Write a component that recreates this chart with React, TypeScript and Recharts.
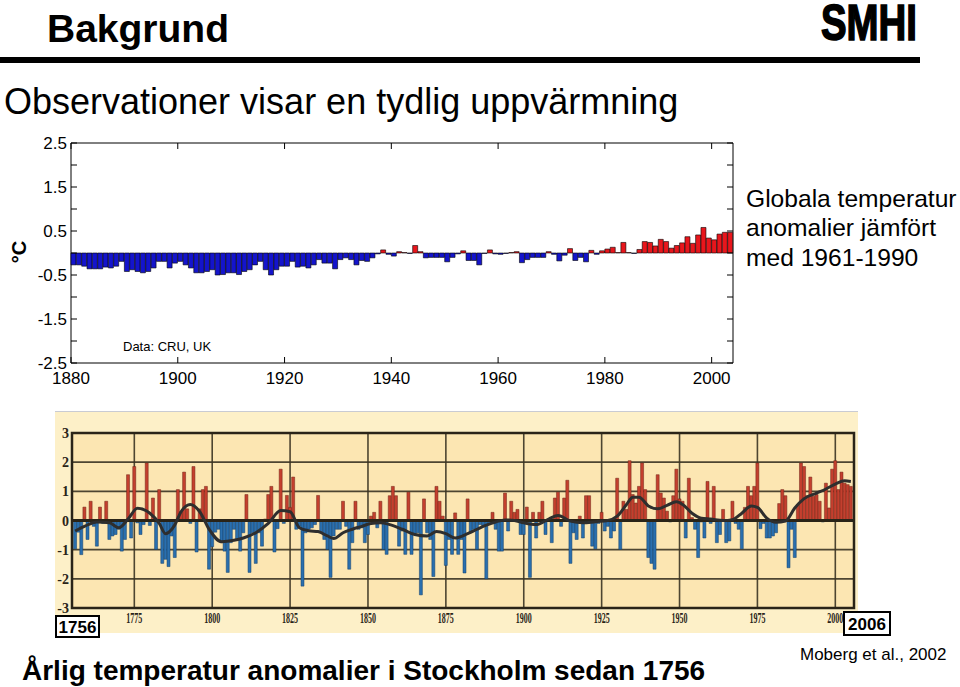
import React from "react";
import {
  BarChart,
  Bar,
  ComposedChart,
  Line,
  XAxis,
  YAxis,
  Cell,
  CartesianGrid,
  ReferenceArea,
  ReferenceLine,
} from "recharts";

const SANS = "'Liberation Sans', Arial, sans-serif";
const SERIF = "'Liberation Serif', 'Times New Roman', serif";

// Global anomalies (CRU), 1880..2003, vs 1961-1990
const GLOBAL_START = 1880;
const globalAnom = [
  -0.27, -0.27, -0.3, -0.36, -0.36, -0.36, -0.32, -0.34, -0.3, -0.19,
  -0.42, -0.38, -0.42, -0.45, -0.42, -0.34, -0.19, -0.19, -0.34, -0.23,
  -0.19, -0.27, -0.34, -0.45, -0.45, -0.42, -0.38, -0.5, -0.49, -0.45,
  -0.45, -0.49, -0.42, -0.38, -0.27, -0.19, -0.38, -0.5, -0.38, -0.3,
  -0.3, -0.19, -0.32, -0.3, -0.34, -0.27, -0.15, -0.23, -0.23, -0.36,
  -0.15, -0.11, -0.15, -0.27, -0.17, -0.19, -0.11, -0.02, 0.07, -0.03,
  -0.07, 0.03, 0.01, -0.01, 0.17, 0.03, -0.11, -0.1, -0.1, -0.1,
  -0.2, -0.1, -0.02, 0.05, -0.17, -0.17, -0.27, -0.01, 0.07, -0.02,
  -0.03, -0.01, 0.01, 0.03, -0.22, -0.15, -0.1, -0.1, -0.1, 0.03,
  -0.03, -0.18, -0.05, 0.1, -0.17, -0.1, -0.2, 0.06, -0.03, 0.05,
  0.09, 0.13, 0.01, 0.24, 0.01, -0.01, 0.08, 0.26, 0.24, 0.16,
  0.31, 0.26, 0.11, 0.17, 0.23, 0.37, 0.22, 0.41, 0.58, 0.34,
  0.3, 0.43, 0.47, 0.47,
];
const globalXTicks = [1880, 1900, 1920, 1940, 1960, 1980, 2000];
const globalYTicks = [-2.5, -2, -1.5, -1, -0.5, 0, 0.5, 1, 1.5, 2, 2.5];

// Stockholm annual anomalies, 1756..2005
const STHLM_START = 1756;
const sthlmAnom = [
  -0.97, -0.4, -1.17, 0.46, -0.65, 0.66, -0.2, -0.88, 0.46, -0.1,
  0.66, -0.65, -0.53, -0.48, -0.3, -1.05, -0.65, 1.57, -0.6, 1.85,
  -0.08, -0.48, -0.14, 1.97, -0.17, 0.77, -0.99, 1.06, -1.47, -1.33,
  -1.58, -0.53, -1.27, 1.06, 0.3, 1.66, 0.4, -0.1, 1.85, -1.08,
  0.4, 1.06, 1.17, -1.67, -0.9, -0.4, -0.3, -0.76, -1.05, -1.78,
  -0.76, -0.3, -0.65, -1.05, -0.42, 0.89, -1.78, -0.42, -1.47, -0.42,
  -0.88, 0.05, 0.89, 1.17, -1.08, -0.28, 1.76, -0.1, 0.86, 0.45,
  1.49, -0.3, -0.2, -2.25, -0.42, -0.3, -0.25, -0.14, 0.86, -0.42,
  -0.65, -0.99, -1.95, -0.53, -0.3, -0.3, 0.66, -0.2, -1.67, -0.76,
  0.66, -0.3, -0.25, -0.76, -0.48, 0.15, 0.28, -0.25, 0.66, -0.99,
  -1.16, 0.85, 1.17, 0.85, -0.88, -0.36, -1.16, 0.97, -1.16, -0.48,
  -0.42, -2.55, 0.74, -0.42, -0.65, -1.92, 1.17, 0.66, 0.15, -1.54,
  -0.65, -1.16, 0.26, -1.16, -0.65, -1.8, 0.74, -0.42, -0.3, -0.99,
  -0.14, -0.2, -2.0, -0.1, 0.28, -0.3, -1.05, -1.05, 0.94, -0.36,
  0.66, 0.28, 0.38, -0.48, -0.48, 0.46, -1.95, 0.28, -0.6, 0.28,
  0.66, -0.48, 0.05, -0.76, 0.77, 0.97, -0.2, 0.77, 1.38, -1.47,
  -0.42, -0.65, 0.15, -0.6, 0.85, 0.85, -0.88, -0.97, -0.1, 0.28,
  -0.36, -0.2, -0.6, -0.36, 1.45, -0.99, 0.66, 0.38, 2.05, 0.89,
  0.6, 1.17, 1.97, 1.06, -1.27, -1.47, -1.67, 1.57, 0.94, 0.77,
  0.32, -0.05, 0.85, 1.76, 0.74, 0.66, -0.6, 1.45, 0.1, -0.3,
  -1.27, -0.05, -0.6, 1.34, -0.1, 1.17, -0.76, -0.48, 0.38, -0.76,
  -0.7, 0.66, -0.1, -0.3, -0.97, 0.45, 1.17, 0.85, 1.17, 1.97,
  -0.28, -0.1, -0.6, -0.6, -0.53, -0.42, 0.58, 1.06, 0.85, -1.62,
  -0.3, -1.27, 0.55, 1.97, 1.85, 0.85, 1.49, 0.83, 0.89, 0.66,
  -0.05, 1.28, 0.43, 1.76, 2.05, 1.06, 1.66, 1.28, 1.23, 1.17,
];
// smoothed curve
const smoothYears = [
  1756, 1759, 1763, 1767, 1770, 1773, 1776, 1780, 1783, 1785, 1788, 1790,
  1793, 1796, 1799, 1803, 1807, 1810, 1814, 1818, 1822, 1825, 1828, 1831,
  1834, 1837, 1839, 1842, 1845, 1848, 1851, 1854, 1857, 1861, 1865, 1869,
  1872, 1875, 1878, 1882, 1885, 1888, 1891, 1894, 1897, 1900, 1904, 1908,
  1911, 1915, 1919, 1923, 1927, 1930, 1933, 1935, 1937, 1940, 1943, 1946,
  1949, 1951, 1954, 1957, 1960, 1964, 1967, 1970, 1973, 1975, 1978, 1981,
  1984, 1987, 1990, 1994, 1997, 2000, 2003, 2005,
];
const smoothVals = [
  -0.36, -0.2, -0.05, -0.08, -0.25, 0.05, 0.42, 0.25, -0.1, -0.45, -0.15, 0.3,
  0.55, 0.3, -0.3, -0.73, -0.68, -0.6, -0.42, -0.1, 0.34, 0.3, -0.25, -0.35,
  -0.38, -0.53, -0.62, -0.42, -0.3, -0.2, -0.1, -0.08, -0.14, -0.3, -0.48, -0.53,
  -0.38, -0.45, -0.6, -0.45, -0.3, -0.16, -0.05, 0.02, 0.0, -0.08, -0.14, 0.05,
  0.17, -0.02, -0.08, -0.04, 0.0, 0.15, 0.55, 0.8, 0.8, 0.5, 0.4, 0.52,
  0.64, 0.55, 0.25, 0.08, 0.05, 0.0, 0.03, 0.25, 0.5, 0.45, 0.08, -0.06,
  -0.02, 0.43, 0.75, 0.94, 1.08, 1.25, 1.36, 1.34,
];
const sthlmXTicks = [1775, 1800, 1825, 1850, 1875, 1900, 1925, 1950, 1975, 2000];
const sthlmYTicks = [-3, -2, -1, 0, 1, 2, 3];

const globalData = globalAnom.map((v, i) => ({ x: GLOBAL_START + i + 0.5, v }));
const sthlmData = sthlmAnom.map((v, i) => ({ year: STHLM_START + i, v }));
const smoothData = smoothYears.map((year, i) => ({ year, s: smoothVals[i] }));

const TOP_W = 662;
const TOP_H = 220;

const GlobalXTick = (p: any) => {
  const { x, y, payload } = p;
  return (
    <g>
      <line x1={x} x2={x} y1={y} y2={y - 6} stroke="#000" />
      <line x1={x} x2={x} y1={y - TOP_H} y2={y - TOP_H + 6} stroke="#000" />
      <text x={x} y={y + 21} textAnchor="middle" fontSize={17} fontFamily={SANS} fill="#000">
        {payload.value}
      </text>
    </g>
  );
};

const GlobalYTick = (p: any) => {
  const { x, y, payload } = p;
  const v = payload.value;
  const labelled = Math.abs(v % 1) === 0.5;
  return (
    <g>
      <line x1={x} x2={x + 6} y1={y} y2={y} stroke="#000" />
      <line x1={x + TOP_W} x2={x + TOP_W - 6} y1={y} y2={y} stroke="#000" />
      {labelled && (
        <text x={x - 4} y={y + 6} textAnchor="end" fontSize={17} fontFamily={SANS} fill="#000">
          {v}
        </text>
      )}
    </g>
  );
};

const SthlmXTick = (p: any) => {
  const { x, y, payload } = p;
  return (
    <text
      x={x}
      y={y + 15}
      textAnchor="middle"
      fontSize={14}
      fontWeight="bold"
      fontFamily={SERIF}
      fill="#2a2418"
      textLength={16}
      lengthAdjust="spacingAndGlyphs"
    >
      {payload.value}
    </text>
  );
};

const SthlmYTick = (p: any) => {
  const { x, y, payload } = p;
  return (
    <text x={x - 3} y={y + 5} textAnchor="end" fontSize={14} fontWeight="bold" fontFamily={SERIF} fill="#2a2418">
      {payload.value}
    </text>
  );
};

function GlobalChart() {
  return (
    <BarChart
      width={745}
      height={265}
      data={globalData}
      margin={{ top: 13, right: 12, bottom: 2, left: 0 }}
      barCategoryGap={0}
    >
      <XAxis
        dataKey="x"
        type="number"
        domain={[1880, 2004]}
        ticks={globalXTicks}
        interval={0}
        tickSize={0}
        tickMargin={0}
        axisLine={false}
        tickLine={false}
        tick={GlobalXTick}
        height={30}
      />
      <YAxis
        type="number"
        domain={[-2.5, 2.5]}
        ticks={globalYTicks}
        interval={0}
        tickSize={0}
        tickMargin={0}
        axisLine={false}
        tickLine={false}
        tick={GlobalYTick}
        width={71}
      />
      <Bar dataKey="v" isAnimationActive={false} stroke="#000" strokeWidth={0.6}>
        {globalData.map((d, i) => (
          <Cell key={i} fill={d.v >= 0 ? "#e8161c" : "#1414cc"} />
        ))}
      </Bar>
      <ReferenceArea x1={1880} x2={2004} y1={-2.5} y2={2.5} fill="none" stroke="#000" strokeWidth={1} />
    </BarChart>
  );
}

function SthlmChart() {
  return (
    <ComposedChart
      width={803}
      height={221}
      data={sthlmData}
      margin={{ top: 22, right: 4, bottom: 2, left: 0 }}
      barCategoryGap={0}
    >
      <CartesianGrid fill="#fce6b2" stroke="#3a3322" strokeWidth={1.6} strokeOpacity={0.9} />
      <XAxis
        dataKey="year"
        type="number"
        domain={[1755, 2006]}
        ticks={sthlmXTicks}
        interval={0}
        tickSize={0}
        tickMargin={0}
        axisLine={false}
        tickLine={false}
        tick={SthlmXTick}
        height={22}
      />
      <YAxis
        type="number"
        domain={[-3, 3]}
        ticks={sthlmYTicks}
        interval={0}
        tickSize={0}
        tickMargin={0}
        axisLine={false}
        tickLine={false}
        tick={SthlmYTick}
        width={17}
      />
      <Bar dataKey="v" isAnimationActive={false} strokeWidth={0.5}>
        {sthlmData.map((d, i) => (
          <Cell
            key={i}
            fill={d.v >= 0 ? "#c43f2e" : "#2a6fae"}
            stroke={d.v >= 0 ? "#6e2418" : "#123f6a"}
          />
        ))}
      </Bar>
      <ReferenceLine y={0} stroke="#2a2418" strokeWidth={3} />
      <Line
        data={smoothData}
        dataKey="s"
        type="monotone"
        stroke="#2e2e2e"
        strokeWidth={3}
        dot={false}
        isAnimationActive={false}
      />
      <ReferenceArea x1={1755} x2={2006} y1={-3} y2={3} fill="none" stroke="#2a2418" strokeWidth={2.5} />
    </ComposedChart>
  );
}

export default function App() {
  return (
    <div
      style={{
        position: "absolute",
        left: 0,
        top: 0,
        width: 960,
        height: 687,
        background: "#fff",
        overflow: "hidden",
        fontFamily: SANS,
      }}
    >
      <div
        style={{
          position: "absolute",
          left: 55,
          top: 411,
          width: 803,
          height: 221,
          background: "#fdf0c8",
          borderTop: "1px solid #c9cbd3",
        }}
      />
      <div style={{ position: "absolute", left: 0, top: 130 }}>
        <GlobalChart />
      </div>
      <div style={{ position: "absolute", left: 55, top: 411 }}>
        <SthlmChart />
      </div>
      <svg width={960} height={687} style={{ position: "absolute", left: 0, top: 0, pointerEvents: "none" }}>
        <text x={47} y={42} fontSize={39} fontWeight="bold" fontFamily={SANS} fill="#000">
          Bakgrund
        </text>
        <text
          transform="translate(821,40) scale(1,1.18)"
          fontSize={43}
          fontWeight="bold"
          fontFamily={SANS}
          fill="#000"
          stroke="#000"
          strokeWidth={1.4}
          textLength={96}
          lengthAdjust="spacingAndGlyphs"
        >
          SMHI
        </text>
        <rect x={0} y={57} width={920} height={6} fill="#000" />
        <text x={4} y={114} fontSize={36} fontFamily={SANS} fill="#000">
          Observationer visar en tydlig uppvärmning
        </text>
        <text
          transform="translate(26,252) rotate(-90)"
          textAnchor="middle"
          fontSize={20}
          fontWeight="bold"
          fontFamily={SANS}
          fill="#000"
        >
          °C
        </text>
        <text x={123} y={351} fontSize={13} fontFamily={SANS} fill="#000">
          Data: CRU, UK
        </text>
        <text fontSize={24.6} fontFamily={SANS} fill="#000">
          <tspan x={746} y={207}>Globala temperatur</tspan>
          <tspan x={746} y={236}>anomalier jämfört</tspan>
          <tspan x={746} y={266}>med 1961-1990</tspan>
        </text>
        <rect x={56} y={616} width={43} height={21} fill="#fff" stroke="#000" strokeWidth={2} />
        <text x={77.5} y={633} textAnchor="middle" fontSize={17} fontWeight="bold" fontFamily={SANS} fill="#000">
          1756
        </text>
        <rect x={844} y={612} width={46} height={23} fill="#fff" stroke="#000" strokeWidth={2} />
        <text x={867} y={630} textAnchor="middle" fontSize={17} fontWeight="bold" fontFamily={SANS} fill="#000">
          2006
        </text>
        <text x={800} y={660} fontSize={17} fontFamily={SANS} fill="#000">
          Moberg et al., 2002
        </text>
        <text x={22} y={680} fontSize={28} fontWeight="bold" fontFamily={SANS} fill="#000">
          Årlig temperatur anomalier i Stockholm sedan 1756
        </text>
      </svg>
    </div>
  );
}
